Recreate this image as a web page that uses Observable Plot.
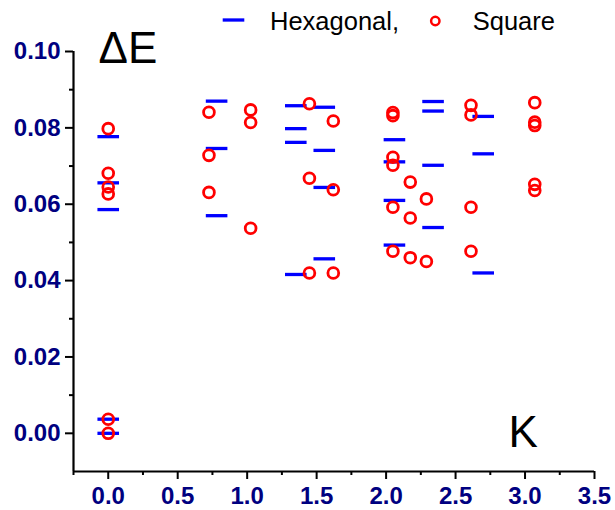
<!DOCTYPE html>
<html>
<head>
<meta charset="utf-8">
<script src="https://cdn.jsdelivr.net/npm/d3@7"></script>
<script src="https://cdn.jsdelivr.net/npm/@observablehq/plot@0.6"></script>
<style>
  body { margin: 0; background: white; font-family: "Liberation Sans", Arial, sans-serif; }
  #wrap { width: 615px; position: relative; }
  #legend { display: block; position: relative; z-index: 2; overflow: visible; }
  #chart svg { position: relative; z-index: 1; }
</style>
</head>
<body>
<div id="wrap">
  <svg id="legend" width="615" height="30" viewBox="0 0 615 30">
    <line x1="222.7" x2="244.3" y1="20" y2="20" stroke="#0000ff" stroke-width="3.3"></line>
    <text x="270" y="30" font-family="Liberation Sans, Arial" font-size="25.5" fill="black">Hexagonal,</text>
    <circle cx="435.3" cy="21" r="4.2" fill="none" stroke="#ff0000" stroke-width="2.5"></circle>
    <text x="472.7" y="30" font-family="Liberation Sans, Arial" font-size="25.5" fill="black">Square</text>
  </svg>
  <div id="chart"></div>
</div>
<script>
// Hexagonal lattice levels (K, ΔE)
const hexK = [0, 0, 0, 0, 0,
              0.78, 0.78, 0.78,
              1.35, 1.35, 1.35, 1.35,
              1.555, 1.555, 1.555, 1.555,
              2.06, 2.06, 2.06, 2.06,
              2.338, 2.338, 2.338, 2.338,
              2.699, 2.699, 2.699];
const hexE = [0.0777, 0.0656, 0.0586, 0.0037, 0.0,
              0.0870, 0.0746, 0.0570,
              0.0858, 0.0798, 0.0762, 0.0416,
              0.0854, 0.0741, 0.0644, 0.0457,
              0.0769, 0.0711, 0.0610, 0.0493,
              0.0869, 0.0844, 0.0702, 0.0539,
              0.0830, 0.0732, 0.0420];

// Square lattice levels (K, ΔE)
const sqK = [0, 0, 0, 0, 0, 0,
             0.725, 0.725, 0.725,
             1.025, 1.025, 1.025,
             1.448, 1.448, 1.448,
             1.62, 1.62, 1.62,
             2.049, 2.049, 2.049, 2.049, 2.049, 2.049,
             2.174, 2.174, 2.174,
             2.29, 2.29,
             2.611, 2.611, 2.611, 2.611,
             3.07, 3.07, 3.07, 3.07, 3.07];
const sqE = [0.0798, 0.0681, 0.0645, 0.0627, 0.0037, 0.0,
             0.0841, 0.0728, 0.0631,
             0.0847, 0.0814, 0.0537,
             0.0863, 0.0668, 0.0420,
             0.0818, 0.0638, 0.0420,
             0.0840, 0.0832, 0.0723, 0.0702, 0.0592, 0.0477,
             0.0658, 0.0564, 0.0460,
             0.0614, 0.0450,
             0.0859, 0.0834, 0.0592, 0.0477,
             0.0866, 0.0815, 0.0806, 0.0652, 0.0636];

// Tick values
const xTicks = [0, 0.5, 1.0, 1.5, 2.0, 2.5, 3.0, 3.5];
const xMinor = [-0.25, 0.25, 0.75, 1.25, 1.75, 2.25, 2.75, 3.25];
const yTicks = [0, 0.02, 0.04, 0.06, 0.08, 0.10];
const yMinor = [0.01, 0.03, 0.05, 0.07, 0.09];

const hexData = hexK.map((k, i) => ({k, e: hexE[i]}));
const sqData = sqK.map((k, i) => ({k, e: sqE[i]}));

const dash = { draw(ctx) { ctx.moveTo(-10.8, 0); ctx.lineTo(10.8, 0); } };

const plot = Plot.plot({
  width: 615,
  height: 480,
  marginLeft: 73,
  marginRight: 21,
  marginTop: 21,
  marginBottom: 39,
  style: { background: "transparent", fontFamily: "Liberation Sans, Arial, sans-serif", overflow: "visible" },
  x: { domain: [-0.25, 3.5], axis: null },
  y: { domain: [-0.01, 0.10], axis: null },
  marks: [
    Plot.ruleX([-0.25], { stroke: "black", strokeWidth: 2.2 }),
    Plot.ruleY([-0.01], { stroke: "black", strokeWidth: 2.2 }),
    Plot.axisY(yTicks, { anchor: "left", label: null, tickSize: 8, tickPadding: 5, strokeWidth: 2, stroke: "black", fill: "#000080",
      fontSize: 24, fontWeight: "bold", tickFormat: d3.format(".2f") }),
    Plot.axisY(yMinor, { anchor: "left", label: null, tickSize: 4, strokeWidth: 2, stroke: "black", text: null }),
    Plot.axisX(xTicks, { anchor: "bottom", label: null, tickSize: 8, tickPadding: 7, strokeWidth: 2, stroke: "black", fill: "#000080",
      fontSize: 24, fontWeight: "bold", tickFormat: d3.format(".1f") }),
    Plot.axisX(xMinor, { anchor: "bottom", label: null, tickSize: 4, strokeWidth: 2, stroke: "black", text: null }),
    Plot.dot(hexData, { x: "k", y: "e", symbol: dash, r: 1, stroke: "#0000ff", strokeWidth: 3.3, fill: "none" }),
    Plot.dot(sqData, { x: "k", y: "e", r: 5.4, stroke: "#ff0000", strokeWidth: 2.8, fill: "none" }),
    Plot.text(["ΔE"], { frameAnchor: "top-left", textAnchor: "start", lineAnchor: "bottom", dx: 25, dy: 11.3,
      fontSize: 44, fill: "black" }),
    Plot.text(["K"], { frameAnchor: "bottom-right", textAnchor: "start", lineAnchor: "bottom", dx: -86, dy: -25,
      fontSize: 44, fill: "black" })
  ]
});
document.getElementById("chart").appendChild(plot);
</script>
</body>
</html>
